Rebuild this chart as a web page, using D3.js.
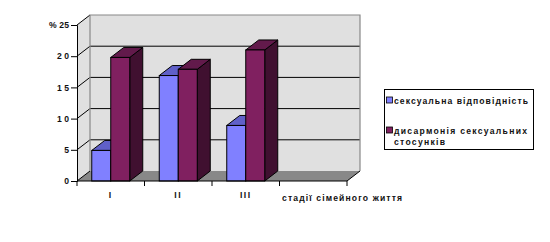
<!DOCTYPE html>
<html><head><meta charset="utf-8">
<script src="https://cdn.jsdelivr.net/npm/d3@7"></script>
<style>
body{margin:0;background:#fff;}
text{font-family:"Liberation Sans",Arial,sans-serif;fill:#111;font-weight:bold;}
</style></head>
<body>
<svg id="c" width="550" height="242"></svg>
<script>
const categories = ["I","II","III",""];
const seriesNames = ["сексуальна відповідність","дисармонія сексуальних стосунків"];
const seriesA = [4.9, 16.9, 8.9, null];
const seriesB = [19.8, 17.9, 21.0, null];
const yTicks = [0,5,10,15,20,25];
const yTickLabels = ["0","5","10","15","20","% 25"];
const xTitle = "стадії сімейного життя";

const svg = d3.select("#c");
const x0 = 77, x1 = 347, yB = 181, yT = 25;
const dx = 13, dy = -10;
const x = d3.scaleBand().domain(categories).range([x0, x1]);
const y = d3.scaleLinear().domain([0,25]).range([yB, yT]);
const barW = 19;
const FS = "8.6px";

const colors = [
  {front:"#8080FF", top:"#6060C8", side:"#5050A0"},
  {front:"#802060", top:"#621A4B", side:"#401030"}
];

function fit(sel, w){ // spread text to a measured width
  sel.each(function(){
    const n = this.getComputedTextLength();
    if (n < w) d3.select(this).attr("textLength", w).attr("lengthAdjust","spacing");
  });
}

// left wall
svg.append("path").attr("d",`M${x0},${yB}L${x0},${yT}L${x0+dx},${yT+dy}L${x0+dx},${yB+dy}Z`).attr("fill","#E0E0E0");
// back wall
svg.append("rect").attr("x",x0+dx).attr("y",yT+dy).attr("width",x1-x0).attr("height",yB-yT).attr("fill","#E0E0E0");
// floor
svg.append("path").attr("d",`M${x0},${yB}L${x0+dx},${yB+dy}L${x1+dx},${yB+dy}L${x1},${yB}Z`).attr("fill","#888");

// grid lines on back wall + left wall diagonals
yTicks.forEach(t=>{
  if(t>0 && t<25){
    svg.append("line").attr("x1",x0+dx).attr("x2",x1+dx).attr("y1",y(t)+dy).attr("y2",y(t)+dy).attr("stroke","#000").attr("stroke-width",1);
  }
  svg.append("line").attr("x1",x0).attr("x2",x0+dx).attr("y1",y(t)).attr("y2",y(t)+dy).attr("stroke","#000").attr("stroke-width",1);
});
// back wall border (gray)
svg.append("path").attr("d",`M${x0+dx},${yB+dy}L${x0+dx},${yT+dy}L${x1+dx},${yT+dy}L${x1+dx},${yB+dy}`).attr("fill","none").attr("stroke","#888").attr("stroke-width",1.2);

// bars
const grp = svg.append("g");
categories.forEach((c,i)=>{
  [seriesA,seriesB].forEach((s,k)=>{
    const v = s[i];
    if(v==null) return;
    const cx = x(c)+x.bandwidth()/2;
    const bx = cx - barW + k*barW;
    const top = y(v), bot = y(0);
    const col = colors[k];
    const g = grp.append("g");
    g.append("path").attr("d",`M${bx+barW},${bot}L${bx+barW},${top}L${bx+barW+dx},${top+dy}L${bx+barW+dx},${bot+dy}Z`).attr("fill",col.side).attr("stroke","#000").attr("stroke-width",1);
    g.append("path").attr("d",`M${bx},${top}L${bx+dx},${top+dy}L${bx+barW+dx},${top+dy}L${bx+barW},${top}Z`).attr("fill",col.top).attr("stroke","#000").attr("stroke-width",1);
    g.append("rect").attr("x",bx).attr("y",top).attr("width",barW).attr("height",bot-top).attr("fill",col.front).attr("stroke","#000").attr("stroke-width",1);
  });
});

// front axes
const yAxis = d3.axisLeft(y).tickValues(yTicks).tickFormat((d,i)=>yTickLabels[i]).tickSize(6).tickPadding(2);
const ya = svg.append("g").attr("transform",`translate(${x0},0)`).call(yAxis);
ya.select(".domain").attr("stroke","#000");
ya.selectAll(".tick line").attr("stroke","#000");
ya.selectAll("text").attr("font-size",FS).attr("font-family","Liberation Sans, Arial, sans-serif").attr("font-weight","bold").attr("fill","#111")
  .each(function(d,i){ const s=yTickLabels[i]; const w = s.length===1?5: s.length===2?12:20; fit(d3.select(this), w); });

const xAxis = d3.axisBottom(x).tickSize(5).tickPadding(6);
const xa = svg.append("g").attr("transform",`translate(0,${yB})`).call(xAxis);
xa.select(".domain").attr("stroke","#000").attr("d",`M${x0},0H${x1}`);
xa.selectAll(".tick line").attr("transform",`translate(${-x.bandwidth()/2},0)`).attr("stroke","#000");
xa.append("line").attr("x1",x1).attr("x2",x1).attr("y1",0).attr("y2",5).attr("stroke","#000");
xa.selectAll("text").attr("font-size",FS).attr("font-family","Liberation Sans, Arial, sans-serif").attr("font-weight","bold").attr("fill","#111")
  .attr("letter-spacing","1.5px");
// floor right diagonal
svg.append("line").attr("x1",x1).attr("y1",yB).attr("x2",x1+dx).attr("y2",yB+dy).attr("stroke","#000");

// x title
fit(svg.append("text").attr("x",282).attr("y",201).attr("font-size",FS).text(xTitle), 120);

// legend
const lg = svg.append("g");
lg.append("rect").attr("x",384.5).attr("y",89.5).attr("width",149).attr("height",60).attr("fill","#fff").attr("stroke","#000");
const legendLines = [["сексуальна відповідність"],["дисармонія сексуальних","стосунків"]];
const legendWidths = [[134],[133,51]];
const legY = [100, 130];
legendLines.forEach((lines,i)=>{
  lg.append("rect").attr("x",386.5).attr("y",legY[i]-3).attr("width",6).attr("height",6).attr("fill",colors[i].front).attr("stroke","#000").attr("stroke-width",0.8);
  lines.forEach((ln,j)=>{
    fit(lg.append("text").attr("x",394).attr("y",legY[i]+3.5+j*11.5).attr("font-size",FS).text(ln), legendWidths[i][j]);
  });
});
</script>
</body></html>
